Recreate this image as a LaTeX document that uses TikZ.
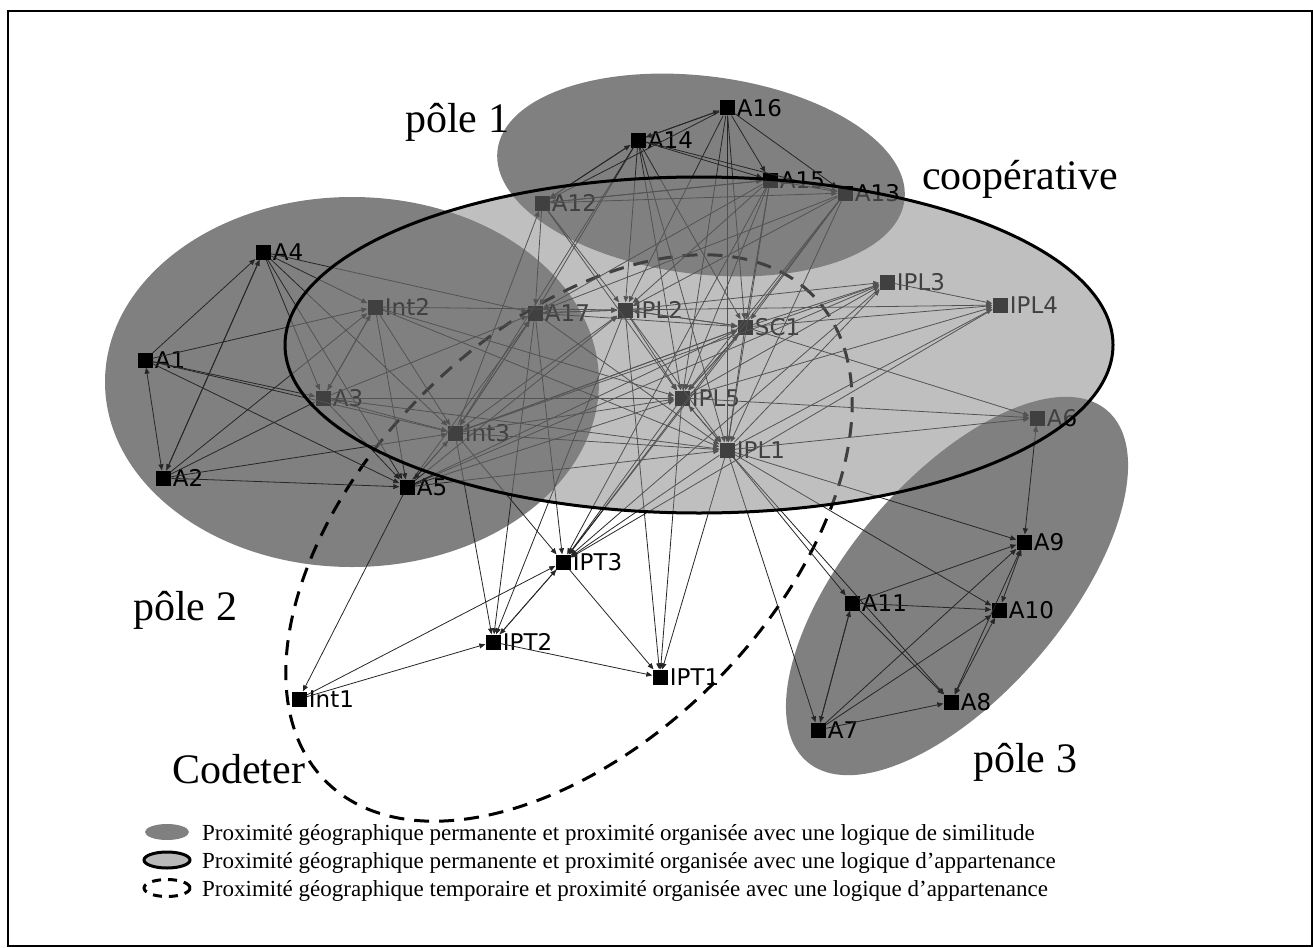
\documentclass[tikz,border=0pt]{standalone}
\usepackage{fontspec}
\setmainfont{Liberation Serif}
\setsansfont{DejaVu Sans}
\usetikzlibrary{arrows.meta}
\usetikzlibrary{positioning}

\tikzset{
  actor/.style={rectangle,fill=black,minimum size=15pt,inner sep=0pt},
  tag/.style={font=\sffamily\fontsize{23}{23}\selectfont,inner sep=1pt,label distance=1pt},
  link/.style={draw=black!85,line width=0.8pt,-{Triangle[length=6pt,width=5pt]}},
  both/.style={link,{Triangle[length=6pt,width=5pt]}-{Triangle[length=6pt,width=5pt]}},
  pole/.style={fill=gray},
  big/.style={font=\fontsize{42}{42}\selectfont,inner sep=0pt,anchor=base west},
  legend/.style={font=\fontsize{23}{26}\selectfont,inner sep=0pt,anchor=base west}
}

\begin{document}
\begin{tikzpicture}[x=1pt,y=-1pt]
\useasboundingbox (0,0) rectangle (1313,947);
\draw[line width=2pt] (7.5,11.5) rectangle (1311.5,946);

% poles
\fill[pole,rotate around={-7:(701,175)}] (701,175) ellipse [x radius=205pt,y radius=99pt];
\fill[pole] (352,382) ellipse [x radius=247pt,y radius=185pt];
\fill[pole,rotate around={49.5:(957,586)}] (957,586) ellipse [x radius=231pt,y radius=108pt];

% Codeter
\draw[line width=3pt,dash pattern=on 15pt off 10pt,rotate around={45:(569,538)}] (569,538) ellipse [x radius=344pt,y radius=205pt];

% pole 1
\node[actor,label={[tag]right:A16}] (a16) at (727,108) {};
\node[actor,label={[tag]right:A14}] (a14) at (638,140) {};
\node[actor,label={[tag]right:A15}] (a15) at (770,180) {};
\node[actor,label={[tag]right:A13}] (a13) at (845,193) {};
\node[actor,label={[tag]right:A12}] (a12) at (542,203) {};

% pole 2
\node[actor,label={[tag]right:A4}] (a4) at (263,252) {};
\node[actor,label={[tag]right:A1}] (a1) at (145,360) {};
\node[actor,label={[tag]right:A2}] (a2) at (163,478) {};
\node[actor,label={[tag]right:A5}] (a5) at (407,487) {};
\node[actor,label={[tag]right:Int2}] (int2) at (375,307) {};
\node[actor,label={[tag]right:A3}] (a3) at (323,398) {};
\node[actor,label={[tag]right:Int3}] (int3) at (455,433) {};

% cooperative
\node[actor,label={[tag]right:A17}] (a17) at (535,313) {};
\node[actor,label={[tag]right:IPL2}] (ipl2) at (625,310) {};
\node[actor,label={[tag]right:SC1}] (sc1) at (745,327) {};
\node[actor,label={[tag]right:IPL3}] (ipl3) at (887,282) {};
\node[actor,label={[tag]right:IPL4}] (ipl4) at (1000,305) {};
\node[actor,label={[tag]right:IPL5}] (ipl5) at (682,398) {};
\node[actor,label={[tag]right:IPL1}] (ipl1) at (727,450) {};

% Codeter
\node[actor,label={[tag]right:IPT3}] (ipt3) at (563,562) {};
\node[actor,label={[tag]right:IPT2}] (ipt2) at (493,642) {};
\node[actor,label={[tag]right:IPT1}] (ipt1) at (660,677) {};
\node[actor,label={[tag]right:Int1}] (int1) at (299,699) {};

% pole 3
\node[actor,label={[tag]right:A6}] (a6) at (1037,418) {};
\node[actor,label={[tag]right:A9}] (a9) at (1024,542) {};
\node[actor,label={[tag]right:A11}] (a11) at (852,603) {};
\node[actor,label={[tag]right:A10}] (a10) at (999,610) {};
\node[actor,label={[tag]right:A8}] (a8) at (951,702) {};
\node[actor,label={[tag]right:A7}] (a7) at (818,730) {};

% links
\path (a1) edge[both] (a2) edge[link] (a4) edge[link] (int2) edge[link] (a3) edge[link] (int3) edge[link] (a5);
\path (a2) edge[link] (a4) edge[link] (int2) edge[link] (a3) edge[link] (int3) edge[link] (a5);
\path (a4) edge[link] (a2) edge[link] (int2) edge[link] (a3) edge[link] (int3) edge[link] (a5) edge[link] (a17);
\path (int2) edge[link] (a3) edge[link] (int3) edge[link] (a5) edge[link] (ipl2) edge[link] (ipl5) edge[link] (ipl1);
\path (a3) edge[link] (int2) edge[link] (int3) edge[link] (a5) edge[link] (ipl5) edge[link] (ipl1) edge[link] (a17);
\path (int3) edge[link] (a5) edge[link] (a17) edge[link] (ipl2) edge[link] (sc1) edge[link] (ipl3) edge[link] (ipl5) edge[link] (ipl1) edge[link] (ipt3) edge[link] (ipt2) edge[link] (a12);
\path (a5) edge[link] (int3) edge[link] (a17) edge[link] (ipl2) edge[link] (ipl5) edge[link] (sc1) edge[link] (ipl1) edge[link] (int1) edge[link] (ipl3);
\path (a16) edge[link] (a14) edge[link] (a15) edge[link] (a13) edge[link] (ipl2) edge[link] (sc1) edge[link] (ipl5) edge[link] (ipl1) edge[link] (a12);
\path (a14) edge[link] (a16) edge[link] (a15) edge[link] (a13) edge[link] (a12) edge[link] (a17) edge[link] (ipl2) edge[link] (sc1) edge[link] (ipl5) edge[link] (ipl1) edge[link] (int3);
\path (a12) edge[link] (a15) edge[link] (a13) edge[link] (a17) edge[link] (ipl2) edge[link] (ipl5) edge[link] (a14);
\path (a15) edge[link] (sc1) edge[link] (ipl2) edge[link] (a17) edge[link] (ipl1) edge[link] (ipt3) edge[link] (a12) edge[link] (ipl5);
\path (a13) edge[link] (a15) edge[link] (sc1) edge[link] (ipl5) edge[link] (ipl1) edge[link] (a17) edge[link] (ipl2) edge[link] (ipt3);
\path (a17) edge[link] (ipl2) edge[link] (ipt2) edge[link] (ipt3) edge[link] (ipl1) edge[link] (sc1) edge[link] (int3);
\path (ipl2) edge[link] (ipl5) edge[link] (ipl1) edge[link] (sc1) edge[link] (ipl3) edge[link] (ipl4) edge[link] (ipt1) edge[link] (ipt2) edge[link] (a17);
\path (sc1) edge[link] (ipl3) edge[link] (ipl4) edge[link] (a6) edge[link] (ipl5) edge[link] (ipl1) edge[link] (ipt3) edge[link] (int3) edge[link] (ipl2);
\path (ipl5) edge[link] (ipl1) edge[link] (ipl3) edge[link] (ipl4) edge[link] (ipt3) edge[link] (ipt1) edge[link] (a6) edge[link] (sc1);
\path (ipl1) edge[link] (a6) edge[link] (a9) edge[link] (a10) edge[link] (a11) edge[link] (a7) edge[link] (ipt1) edge[link] (ipt3) edge[link] (ipl4) edge[link] (ipl3) edge[link] (ipl5) edge[link] (a8);
\path (ipl3) edge[link] (ipl4) edge[link] (ipt3);
\path (ipl4) edge[link] (ipt3);
\path (ipt3) edge[link] (ipt2) edge[link] (ipt1);
\path (ipt2) edge[link] (ipt1) edge[link] (ipt3);
\path (int1) edge[link] (ipt2) edge[link] (ipt3);
\path (a6) edge[both] (a9);
\path (a11) edge[link] (a9) edge[link] (a10) edge[link] (a8) edge[link] (a7);
\path (a7) edge[link] (a11) edge[link] (a8) edge[link] (a10) edge[link] (a9);
\path (a9) edge[both] (a10) edge[both] (a8);
\path (a10) edge[both] (a8);

% cooperative veil and outline
\fill[gray,fill opacity=0.5] (699,345) ellipse [x radius=414pt,y radius=168pt];
\draw[line width=3pt] (699,345) ellipse [x radius=414pt,y radius=168pt];

% titles
\node[big] (t1) at (405,132) {pôle 1};
\node[big] (t2) at (133,620) {pôle 2};
\node[big] (t3) at (973,772) {pôle 3};
\node[big] (t4) at (922,189) {coopérative};
\node[big] (t5) at (172,783) {Codeter};

% legend
\fill[gray] (167,832) ellipse [x radius=22pt,y radius=8pt];
\draw[line width=3pt,fill=gray!55] (167,860) ellipse [x radius=23pt,y radius=8pt];
\draw[line width=3pt,dash pattern=on 9pt off 7pt] (167,888) ellipse [x radius=23pt,y radius=8.5pt];
\node[legend] (l1) at (202,840) {Proximité géographique permanente et proximité organisée avec une logique de similitude};
\node[legend] (l2) at (202,868) {Proximité géographique permanente et proximité organisée avec une logique d’appartenance};
\node[legend] (l3) at (202,896) {Proximité géographique temporaire et proximité organisée avec une logique d’appartenance};
\end{tikzpicture}
\end{document}
